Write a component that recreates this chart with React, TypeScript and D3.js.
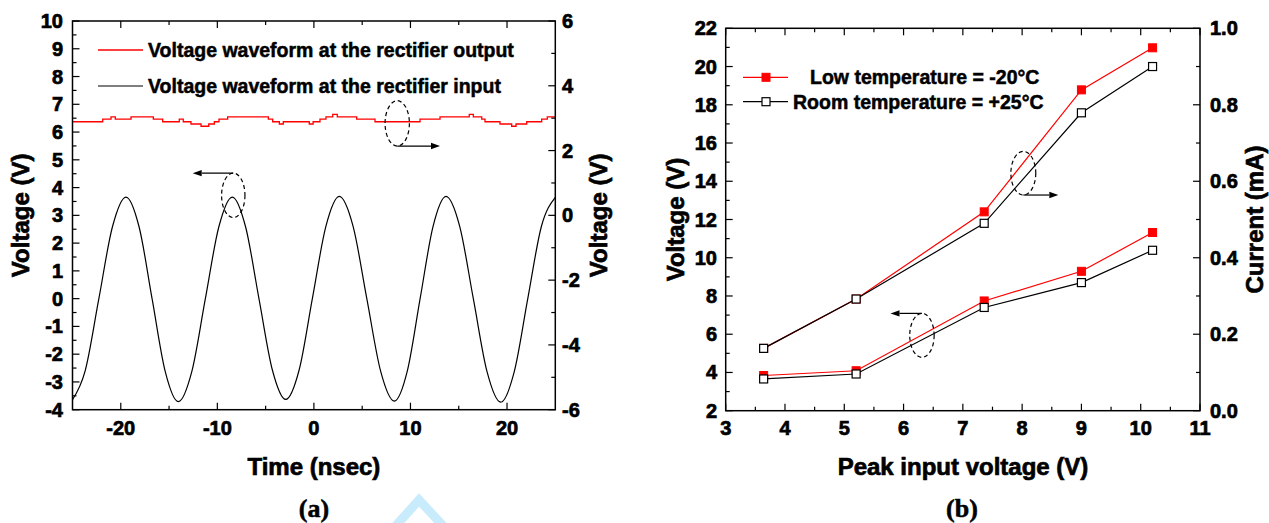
import React from 'react';
import * as d3 from 'd3';

// ---------- Panel (a) data ----------
const waveT = [-25, -23.69, -22.28, -20.87, -19.46, -18.10, -16.75, -15.40, -14.04, -12.64, -11.25, -9.85, -8.45, -7.07, -5.69, -4.30, -2.92, -1.53, -0.15, 1.24, 2.63, 4.06, 5.48, 6.91, 8.33, 9.67, 11.0, 12.34, 13.68, 15.10, 16.52, 17.93, 19.35, 20.75, 22.15, 23.55, 25];
const waveV = [-3.64, -2.6, -0.02, 2.58, 3.66, 2.58, -0.02, -2.62, -3.71, -2.62, -0.02, 2.58, 3.66, 2.58, 0.0, -2.57, -3.63, -2.57, 0.02, 2.6, 3.68, 2.6, 0.0, -2.61, -3.69, -2.61, 0.0, 2.6, 3.68, 2.6, -0.02, -2.63, -3.73, -2.63, 0.0, 2.59, 3.65];

const outT = [-25, -21.87, -21.01, -20.57, -18.94, -16.63, -15.66, -13.94, -13.53, -12.73, -11.69, -10.89, -10.31, -9.83, -8.93, -4.72, -4.27, -3.58, -3.17, -0.48, -0.08, 0.63, 1.25, 1.95, 2.42, 4.43, 6.33, 10.99, 13.06, 16.09, 16.51, 17.38, 17.72, 19.27, 20.48, 20.93, 22.04, 23.59, 24.17, 25];
const outV = [2.89, 2.97, 3.04, 2.97, 3.04, 2.97, 2.89, 2.97, 2.89, 2.82, 2.75, 2.82, 2.89, 2.97, 3.04, 2.97, 2.89, 2.82, 2.89, 2.82, 2.89, 2.97, 3.04, 3.12, 3.04, 2.97, 2.89, 2.97, 3.04, 3.12, 3.04, 2.97, 2.89, 2.82, 2.75, 2.82, 2.89, 2.97, 3.04, 3.04];

const timeTicks = [-20, -10, 0, 10, 20];
const timeMinor = [-15, -5, 5, 15];
const voltATicks = [-4, -3, -2, -1, 0, 1, 2, 3, 4, 5, 6, 7, 8, 9, 10];
const voltAMinor = [-3.5, -2.5, -1.5, -0.5, 0.5, 1.5, 2.5, 3.5, 4.5, 5.5, 6.5, 7.5, 8.5, 9.5];
const voltARTicks = [-6, -4, -2, 0, 2, 4, 6];
const voltARMinor = [-5, -3, -1, 1, 3, 5];
const legendA = ['Voltage waveform at the rectifier output', 'Voltage waveform at the rectifier input'];

// ---------- Panel (b) data ----------
const peakInput = [3.64, 5.2, 7.36, 9.0, 10.2];
const voltLow = [3.84, 4.09, 7.74, 9.29, 11.32];
const voltRoom = [3.66, 3.92, 7.40, 8.70, 10.39];
const currLow = [0.163, 0.292, 0.52, 0.839, 0.949];
const currRoom = [0.163, 0.292, 0.49, 0.779, 0.90];

const peakTicks = [3, 4, 5, 6, 7, 8, 9, 10, 11];
const peakMinor = [3.5, 4.5, 5.5, 6.5, 7.5, 8.5, 9.5, 10.5];
const voltBTicks = [2, 4, 6, 8, 10, 12, 14, 16, 18, 20, 22];
const voltBMinor = [3, 5, 7, 9, 11, 13, 15, 17, 19, 21];
const currTicks = [0, 0.2, 0.4, 0.6, 0.8, 1.0];
const currMinor = [0.1, 0.3, 0.5, 0.7, 0.9];
const legendB = ['Low temperature = -20\u00B0C', 'Room temperature = +25\u00B0C'];

const FONT = "'Liberation Sans', Arial, Helvetica, sans-serif";
const SERIF = "'Liberation Serif', 'Times New Roman', serif";
const MAJ = 7;
const MIN = 4;

function Ellipse({ cx, cy, rx, ry }: { cx: number; cy: number; rx: number; ry: number }) {
  return <ellipse cx={cx} cy={cy} rx={rx} ry={ry} fill="none" stroke="#000" strokeWidth={1.2} strokeDasharray="4,3" />;
}

function Arrow({ x1, x2, y }: { x1: number; x2: number; y: number }) {
  const dir = x2 > x1 ? 1 : -1;
  const hl = 9;
  const hw = 3.2;
  return (
    <g>
      <line x1={x1} y1={y} x2={x2 - dir * hl} y2={y} stroke="#000" strokeWidth={1.2} />
      <path d={`M${x2},${y} L${x2 - dir * hl},${y - hw} L${x2 - dir * hl},${y + hw} Z`} fill="#000" />
    </g>
  );
}

export default function App() {
  // Panel (a) scales
  const xA = d3.scaleLinear().domain([-25, 25]).range([72.5, 555.3]);
  const yAL = d3.scaleLinear().domain([-4, 10]).range([409.7, 21]);
  const yAR = d3.scaleLinear().domain([-6, 6]).range([409.7, 21]);
  // Panel (b) scales
  const xB = d3.scaleLinear().domain([3, 11]).range([725.7, 1200]);
  const yBL = d3.scaleLinear().domain([2, 22]).range([410.7, 28.3]);
  const yBR = d3.scaleLinear().domain([0, 1]).range([410.7, 28.3]);

  const waveLine = d3.line<number>().x((_, i) => xA(waveT[i])).y((d) => yAL(d)).curve(d3.curveMonotoneX);
  const outLine = d3.line<number>().x((_, i) => xA(outT[i])).y((d) => yAR(d)).curve(d3.curveStepAfter);

  const lineB = (ys: number[], sy: d3.ScaleLinear<number, number>) =>
    d3.line<number>().x((_, i) => xB(peakInput[i])).y((d) => sy(d))(ys) || '';

  const [ax0, ax1] = xA.range();
  const [ay0, ay1] = yAL.range();
  const [bx0, bx1] = xB.range();
  const [by0, by1] = yBL.range();

  const tickStyle = { stroke: '#000', strokeWidth: 1.2 };
  const heavy = { stroke: '#000', strokeWidth: 0.7 } as React.CSSProperties;
  const labelStyle: React.CSSProperties = { fontFamily: FONT, fontWeight: 'bold', fontSize: 20, ...heavy };
  const titleStyle: React.CSSProperties = { fontFamily: FONT, fontWeight: 'bold', fontSize: 24, ...heavy };
  const legendStyle: React.CSSProperties = { fontFamily: FONT, fontWeight: 'bold', fontSize: 19.5, stroke: '#000', strokeWidth: 0.5 };
  const capStyle: React.CSSProperties = { fontFamily: SERIF, fontWeight: 'bold', fontSize: 26, stroke: '#000', strokeWidth: 0.5 };

  const sq = 8;

  return (
    <svg width={1269} height={523} style={{ position: 'absolute', left: 0, top: 0, background: '#fff' }}>
      <rect x={0} y={0} width={1269} height={523} fill="#fff" />

      {/* light watermark chevron */}
      <polyline points="392,530 419,500 447,530" fill="none" stroke="#c9ecfc" strokeWidth={9} strokeLinejoin="miter" />

      {/* ================= Panel (a) ================= */}
      <g>
        <path d={waveLine(waveV) || ''} fill="none" stroke="#000" strokeWidth={1.2} />
        <path d={outLine(outV) || ''} fill="none" stroke="#ff0000" strokeWidth={1.3} />

        {timeTicks.map((t) => (
          <g key={'xt' + t}>
            <line x1={xA(t)} x2={xA(t)} y1={ay0} y2={ay0 - MAJ} {...tickStyle} />
            <line x1={xA(t)} x2={xA(t)} y1={ay1} y2={ay1 + MAJ} {...tickStyle} />
            <text x={xA(t)} y={435} textAnchor="middle" style={labelStyle}>{t}</text>
          </g>
        ))}
        {timeMinor.map((t) => (
          <g key={'xm' + t}>
            <line x1={xA(t)} x2={xA(t)} y1={ay0} y2={ay0 - MIN} {...tickStyle} />
            <line x1={xA(t)} x2={xA(t)} y1={ay1} y2={ay1 + MIN} {...tickStyle} />
          </g>
        ))}
        {voltATicks.map((v) => (
          <g key={'yl' + v}>
            <line x1={ax0} x2={ax0 + MAJ} y1={yAL(v)} y2={yAL(v)} {...tickStyle} />
            <text x={63} y={yAL(v)} textAnchor="end" dominantBaseline="central" style={labelStyle}>{v}</text>
          </g>
        ))}
        {voltAMinor.map((v) => (
          <line key={'ylm' + v} x1={ax0} x2={ax0 + MIN} y1={yAL(v)} y2={yAL(v)} {...tickStyle} />
        ))}
        {voltARTicks.map((v) => (
          <g key={'yr' + v}>
            <line x1={ax1} x2={ax1 - MAJ} y1={yAR(v)} y2={yAR(v)} {...tickStyle} />
            <text x={562} y={yAR(v)} textAnchor="start" dominantBaseline="central" style={labelStyle}>{v}</text>
          </g>
        ))}
        {voltARMinor.map((v) => (
          <line key={'yrm' + v} x1={ax1} x2={ax1 - MIN} y1={yAR(v)} y2={yAR(v)} {...tickStyle} />
        ))}

        <rect x={ax0} y={ay1} width={ax1 - ax0} height={ay0 - ay1} fill="none" stroke="#000" strokeWidth={1.5} />

        <line x1={98} x2={143} y1={50} y2={50} stroke="#ff0000" strokeWidth={1.3} />
        <text x={148} y={50} dominantBaseline="central" style={legendStyle}>{legendA[0]}</text>
        <line x1={98} x2={143} y1={86} y2={86} stroke="#000" strokeWidth={1.2} />
        <text x={148} y={86} dominantBaseline="central" style={legendStyle}>{legendA[1]}</text>

        <Ellipse cx={xA(-8.35)} cy={yAL(3.72)} rx={xA(-8.35 + 1.21) - xA(-8.35)} ry={yAL(3.72 - 0.8) - yAL(3.72)} />
        <Arrow x1={xA(-8.35)} x2={xA(-12.55)} y={yAL(3.72 + 0.8)} />
        <Ellipse cx={xA(8.63)} cy={yAR(2.84)} rx={xA(8.63 + 1.26) - xA(8.63)} ry={yAR(2.84 - 0.7) - yAR(2.84)} />
        <Arrow x1={xA(8.63)} x2={xA(13.06)} y={yAR(2.84 - 0.7)} />

        <text x={(ax0 + ax1) / 2} y={475} textAnchor="middle" style={titleStyle}>Time (nsec)</text>
        <text transform={`translate(28.5,${(ay0 + ay1) / 2}) rotate(-90)`} textAnchor="middle" style={titleStyle}>Voltage (V)</text>
        <text transform={`translate(607,${(ay0 + ay1) / 2}) rotate(-90)`} textAnchor="middle" style={titleStyle}>Voltage (V)</text>
        <text x={314} y={517} textAnchor="middle" style={capStyle}>(a)</text>
      </g>

      {/* ================= Panel (b) ================= */}
      <g>
        <path d={lineB(currLow, yBR)} fill="none" stroke="#ff0000" strokeWidth={1.2} />
        <path d={lineB(voltLow, yBL)} fill="none" stroke="#ff0000" strokeWidth={1.2} />
        {peakInput.map((p, i) => (
          <g key={'rl' + i}>
            <rect x={xB(p) - sq / 2} y={yBR(currLow[i]) - sq / 2} width={sq} height={sq} fill="#ff0000" stroke="#ff0000" strokeWidth={1} />
            <rect x={xB(p) - sq / 2} y={yBL(voltLow[i]) - sq / 2} width={sq} height={sq} fill="#ff0000" stroke="#ff0000" strokeWidth={1} />
          </g>
        ))}
        <path d={lineB(currRoom, yBR)} fill="none" stroke="#000" strokeWidth={1.2} />
        <path d={lineB(voltRoom, yBL)} fill="none" stroke="#000" strokeWidth={1.2} />
        {peakInput.map((p, i) => (
          <g key={'bl' + i}>
            <rect x={xB(p) - sq / 2} y={yBR(currRoom[i]) - sq / 2} width={sq} height={sq} fill="#fff" stroke="#000" strokeWidth={1.2} />
            <rect x={xB(p) - sq / 2} y={yBL(voltRoom[i]) - sq / 2} width={sq} height={sq} fill="#fff" stroke="#000" strokeWidth={1.2} />
          </g>
        ))}

        {peakTicks.map((t) => (
          <g key={'bxt' + t}>
            <line x1={xB(t)} x2={xB(t)} y1={by0} y2={by0 - MAJ} {...tickStyle} />
            <line x1={xB(t)} x2={xB(t)} y1={by1} y2={by1 + MAJ} {...tickStyle} />
            <text x={xB(t)} y={435} textAnchor="middle" style={labelStyle}>{t}</text>
          </g>
        ))}
        {peakMinor.map((t) => (
          <g key={'bxm' + t}>
            <line x1={xB(t)} x2={xB(t)} y1={by0} y2={by0 - MIN} {...tickStyle} />
            <line x1={xB(t)} x2={xB(t)} y1={by1} y2={by1 + MIN} {...tickStyle} />
          </g>
        ))}
        {voltBTicks.map((v) => (
          <g key={'byl' + v}>
            <line x1={bx0} x2={bx0 + MAJ} y1={yBL(v)} y2={yBL(v)} {...tickStyle} />
            <text x={717} y={yBL(v)} textAnchor="end" dominantBaseline="central" style={labelStyle}>{v}</text>
          </g>
        ))}
        {voltBMinor.map((v) => (
          <line key={'bylm' + v} x1={bx0} x2={bx0 + MIN} y1={yBL(v)} y2={yBL(v)} {...tickStyle} />
        ))}
        {currTicks.map((v) => (
          <g key={'byr' + v}>
            <line x1={bx1} x2={bx1 - MAJ} y1={yBR(v)} y2={yBR(v)} {...tickStyle} />
            <text x={1210} y={yBR(v)} textAnchor="start" dominantBaseline="central" style={labelStyle}>{v.toFixed(1)}</text>
          </g>
        ))}
        {currMinor.map((v) => (
          <line key={'byrm' + v} x1={bx1} x2={bx1 - MIN} y1={yBR(v)} y2={yBR(v)} {...tickStyle} />
        ))}

        <rect x={bx0} y={by1} width={bx1 - bx0} height={by0 - by1} fill="none" stroke="#000" strokeWidth={1.5} />

        <line x1={743} x2={788} y1={77.3} y2={77.3} stroke="#ff0000" strokeWidth={1.2} />
        <rect x={766 - sq / 2} y={77.3 - sq / 2} width={sq} height={sq} fill="#ff0000" stroke="#ff0000" />
        <text x={810} y={77.3} dominantBaseline="central" style={legendStyle}>{legendB[0]}</text>
        <line x1={743} x2={788} y1={101.7} y2={101.7} stroke="#000" strokeWidth={1.2} />
        <rect x={766 - sq / 2} y={101.7 - sq / 2} width={sq} height={sq} fill="#fff" stroke="#000" strokeWidth={1.2} />
        <text x={793} y={101.7} dominantBaseline="central" style={legendStyle}>{legendB[1]}</text>

        <Ellipse cx={xB(8.02)} cy={yBR(0.621)} rx={xB(8.02 + 0.21) - xB(8.02)} ry={yBR(0.621 - 0.057) - yBR(0.621)} />
        <Arrow x1={xB(8.02)} x2={xB(8.61)} y={yBR(0.621 - 0.057)} />
        <Ellipse cx={xB(6.31)} cy={yBL(5.94)} rx={xB(6.31 + 0.206) - xB(6.31)} ry={yBL(5.94 - 1.15) - yBL(5.94)} />
        <Arrow x1={xB(6.31)} x2={xB(5.78)} y={yBL(5.94 + 1.15)} />

        <text x={963} y={475} textAnchor="middle" style={titleStyle}>Peak input voltage (V)</text>
        <text transform={`translate(684,${(by0 + by1) / 2}) rotate(-90)`} textAnchor="middle" style={titleStyle}>Voltage (V)</text>
        <text transform={`translate(1263,${(by0 + by1) / 2}) rotate(-90)`} textAnchor="middle" style={titleStyle}>Current (mA)</text>
        <text x={962} y={517} textAnchor="middle" style={capStyle}>(b)</text>
      </g>
    </svg>
  );
}
